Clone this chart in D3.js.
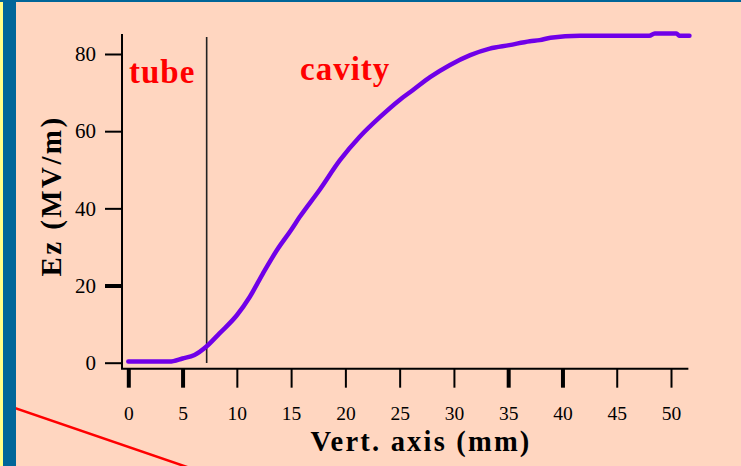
<!DOCTYPE html>
<html>
<head>
<meta charset="utf-8">
<script src="https://cdn.jsdelivr.net/npm/d3@7"></script>
<style>
  body { margin: 0; background: #ffd6c0; }
  svg { display: block; }
</style>
</head>
<body>
<div id="chart"></div>
<script>
// position along vertical axis (mm) and field Ez (MV/m)
const posMm = [0, 2, 3.8, 5.0, 6.1, 7.2, 8.4, 10.0, 11.2, 12.4, 13.7, 15.0, 15.8, 17.6, 19.5, 21.3, 23.2, 25.0, 26.2, 27.8, 29.6, 31.5, 33.3, 35.1, 37.0, 37.9, 38.9, 41.6, 48.0, 48.5, 50.5, 50.8, 51.7];
const ezVals = [0.3, 0.3, 0.3, 1.1, 2.0, 4.2, 7.6, 12.3, 17.1, 23.1, 29.2, 34.4, 37.8, 44.7, 52.5, 58.5, 63.7, 68.1, 70.6, 74.0, 77.1, 79.7, 81.4, 82.3, 83.3, 83.6, 84.2, 84.7, 84.7, 85.3, 85.3, 84.7, 84.7];

const xTicks = [0, 5, 10, 15, 20, 25, 30, 35, 40, 45, 50];
const yTicks = [0, 20, 40, 60, 80];
const boldXTicks = [0, 5, 35, 40];
const boldYTicks = [20];

const tubeEnd = 7.22; // mm, tube / cavity boundary
const regionLabels = ["tube", "cavity"];

const W = 741, H = 466;

const svg = d3.select("#chart").append("svg")
  .attr("width", W)
  .attr("height", H);

svg.append("rect").attr("width", W).attr("height", H).attr("fill", "#ffd6c0");

// slide decoration
svg.append("line")
  .attr("x1", 0).attr("y1", 403).attr("x2", 190).attr("y2", 468)
  .attr("stroke", "#ff0000").attr("stroke-width", 2.5);
svg.append("rect").attr("x", 0).attr("y", 0).attr("width", 3).attr("height", H).attr("fill", "#ffff88");
svg.append("rect").attr("x", 3).attr("y", 0).attr("width", 13).attr("height", H).attr("fill", "#006699");
svg.append("rect").attr("x", 0).attr("y", 0).attr("width", W).attr("height", 2).attr("fill", "#006699");

const x = d3.scaleLinear().domain([0, 50]).range([128.3, 671]);
const y = d3.scaleLinear().domain([0, 80]).range([362.7, 54]);

const serif = "'Liberation Serif', 'Times New Roman', serif";

// axis lines
svg.append("line")
  .attr("x1", x(-0.67)).attr("x2", x(51.6))
  .attr("y1", y(-1.55)).attr("y2", y(-1.55))
  .attr("stroke", "#000").attr("stroke-width", 2);
svg.append("line")
  .attr("x1", x(-0.58)).attr("x2", x(-0.58))
  .attr("y1", y(85.2)).attr("y2", y(-1.55))
  .attr("stroke", "#000").attr("stroke-width", 2);

const xAxis = d3.axisBottom(x).tickValues(xTicks).tickSize(19).tickSizeOuter(0);
const gx = svg.append("g")
  .attr("transform", "translate(0," + y(-1.55) + ")")
  .call(xAxis)
  .attr("font-family", serif)
  .attr("font-size", 19.5);
gx.select(".domain").remove();
gx.selectAll(".tick line")
  .attr("stroke", "#000")
  .attr("stroke-width", d => boldXTicks.includes(d) ? 4 : 2);
gx.selectAll(".tick text")
  .attr("y", 51).attr("dy", null)
  .style("font-family", serif).attr("fill", "#000");

const yAxis = d3.axisLeft(y).tickValues(yTicks).tickSize(17).tickPadding(9).tickSizeOuter(0);
const gy = svg.append("g")
  .attr("transform", "translate(" + x(-0.58) + ",0)")
  .call(yAxis)
  .attr("font-family", serif)
  .attr("font-size", 21);
gy.select(".domain").remove();
gy.selectAll(".tick line")
  .attr("stroke", "#000")
  .attr("stroke-width", d => boldYTicks.includes(d) ? 4 : 2);
gy.selectAll(".tick text")
  .style("font-family", serif).attr("fill", "#000");

// axis titles
svg.append("text")
  .attr("x", 421).attr("y", 451)
  .attr("text-anchor", "middle")
  .style("font-family", serif).style("letter-spacing", "2.2px")
  .attr("font-weight", "bold").attr("font-size", 28.5)
  .text("Vert. axis (mm)");

svg.append("text")
  .attr("transform", "translate(61,196) rotate(-90)")
  .attr("text-anchor", "middle")
  .style("font-family", serif).style("letter-spacing", "2.4px")
  .attr("font-weight", "bold").attr("font-size", 29)
  .text("Ez (MV/m)");

// tube / cavity boundary
svg.append("line")
  .attr("x1", x(tubeEnd)).attr("x2", x(tubeEnd))
  .attr("y1", 37).attr("y2", 363)
  .attr("stroke", "#222").attr("stroke-width", 1.6);

svg.append("text")
  .attr("x", 129).attr("y", 83)
  .style("font-family", serif).style("letter-spacing", "1px")
  .attr("font-weight", "bold").attr("font-size", 33)
  .attr("fill", "#ff0000")
  .text(regionLabels[0]);
svg.append("text")
  .attr("x", 300).attr("y", 80)
  .style("font-family", serif).style("letter-spacing", "1px")
  .attr("font-weight", "bold").attr("font-size", 33)
  .attr("fill", "#ff0000")
  .text(regionLabels[1]);

// Ez curve
const pts = posMm.map((p, i) => [p, ezVals[i]]);
const line = d3.line()
  .x(d => x(d[0]))
  .y(d => y(d[1]))
  .curve(d3.curveMonotoneX);

svg.append("path")
  .datum(pts)
  .attr("d", line)
  .attr("fill", "none")
  .attr("stroke", "#7000e8")
  .attr("stroke-width", 4.5)
  .attr("stroke-linecap", "round");
</script>
</body>
</html>
